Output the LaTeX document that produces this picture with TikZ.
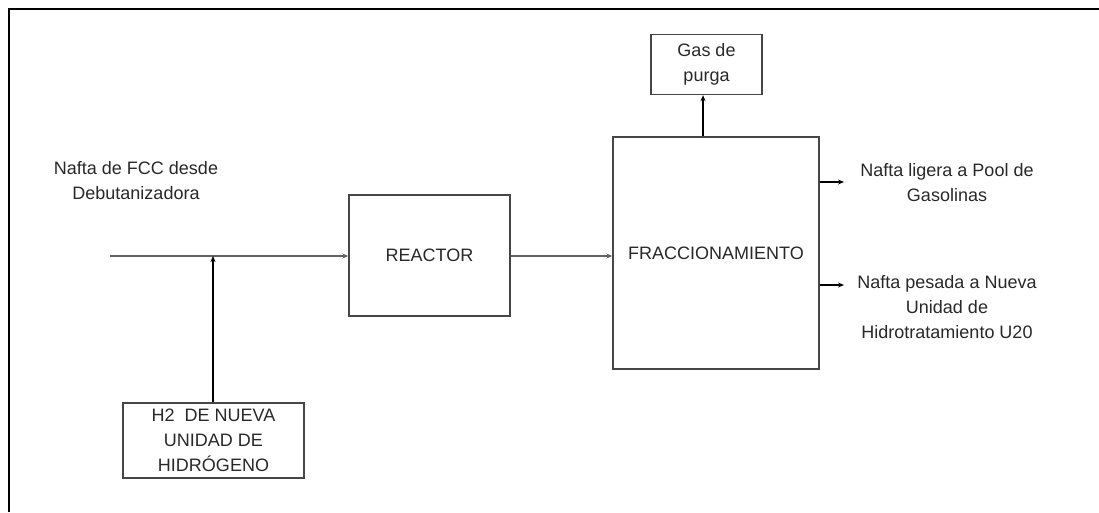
\documentclass[tikz,border=0pt]{standalone}
\usepackage{fontspec}
\setmainfont{Liberation Sans}
\usetikzlibrary{arrows.meta,positioning,calc}
\definecolor{linea}{RGB}{70, 70, 70}
\definecolor{texto}{RGB}{40, 40, 40}

\tikzset{
  equipo/.style={draw=linea,line width=1.4pt,inner sep=0pt,font=\fontsize{18}{25}\selectfont,text=texto,align=center},
  rotulo/.style={inner sep=0pt,font=\fontsize{18}{25}\selectfont,text=texto,align=center},
  flujo/.style={draw=linea!85,line width=2pt,-{Stealth[length=6pt,width=5pt]}},
  ramal/.style={draw=black,line width=1.3pt,-{Stealth[length=6pt,width=5pt]}},
}

\begin{document}
\begin{tikzpicture}[x=1pt,y=-1pt]
        \useasboundingbox (0,0) rectangle (1099,512);
        % marco
        \draw[black,line width=2pt] (9,512) -- (9,9) -- (1099,9);
        % equipos
        \node[equipo,minimum width=161,minimum height=121] (reactor) at (429.5,255.5) {REACTOR};
        \node[equipo,minimum width=206,minimum height=232] (fracc) at (716,253) {FRACCIONAMIENTO};
        \node[equipo,minimum width=111,minimum height=60] (purga) at (706.5,64.5) {Gas de\\purga};
        \node[equipo,minimum width=181,minimum height=75] (hidrog) at (213.5,440.5) {H2\ \ DE NUEVA\\UNIDAD DE\\HIDRÓGENO};
        % rotulos
        \node[rotulo] (nafta) at (136,181) {Nafta de FCC desde\\Debutanizadora};
        \node[rotulo] (ligera) at (947,183) {Nafta ligera a Pool de\\Gasolinas};
        \node[rotulo] (pesada) at (947,307) {Nafta pesada a Nueva\\Unidad de\\Hidrotratamiento U20};
        \coordinate (entrada) at (110,256);
        \coordinate (union) at (213,256);
        \coordinate (salligera) at (844,182);
        \coordinate (salpesada) at (844,285);
        % corrientes
        \draw[flujo] (entrada) -- (reactor.west |- entrada);
        \draw[ramal] (hidrog.north -| union) -- (union);
        \draw[flujo] (reactor.east |- entrada) -- (fracc.west |- entrada);
        \draw[ramal] (fracc.north -| 703,0) -- (purga.south -| 703,0);
        \draw[ramal] (fracc.east |- salligera) -- (salligera);
        \draw[ramal] (fracc.east |- salpesada) -- (salpesada);
      \end{tikzpicture}
\end{document}
